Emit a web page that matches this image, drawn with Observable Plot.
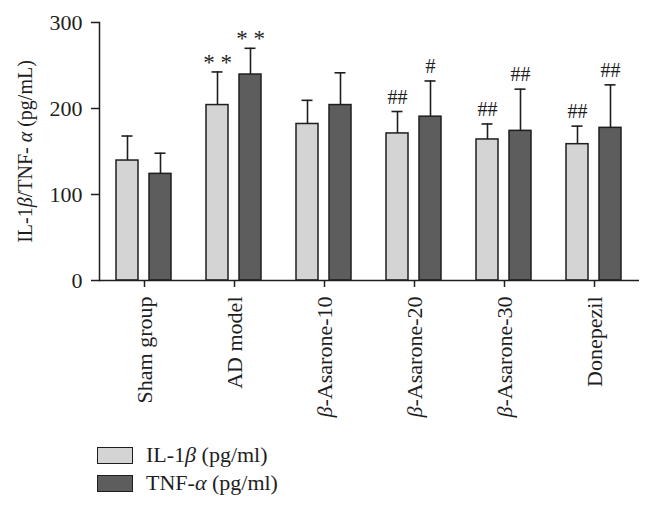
<!DOCTYPE html>
<html><head><meta charset="utf-8">
<script src="https://cdn.jsdelivr.net/npm/d3@7"></script>
<script src="https://cdn.jsdelivr.net/npm/@observablehq/plot@0.6"></script>
<style>
body{margin:0;background:#fff;font-family:"Liberation Serif",serif;color:#1e1e1e;}
#legend{padding:11px 0 0 97px;}
.row{display:flex;align-items:center;height:28px;font-size:22px;}
.sw{width:36px;height:17px;box-sizing:border-box;border:1.5px solid #1e1e1e;margin-right:13px;}
</style></head><body><div id="chart"></div><div id="legend"></div>
<script>
const groups = ["Sham group", "AD model", "β-Asarone-10", "β-Asarone-20", "β-Asarone-30", "Donepezil"];
const series = ["IL-1β (pg/ml)", "TNF-α (pg/ml)"];
const colors = ["#d4d4d4", "#5d5d5d"];
const il1b = [139.5, 204, 182, 171, 164, 158.5];
const il1bSD = [28.5, 38.5, 27.5, 25.5, 18, 21];
const il1bSig = ["", "* *", "", "##", "##", "##"];
const tnf = [124, 239.5, 204, 190.5, 174, 177.5];
const tnfSD = [24, 30.5, 37.5, 41.5, 48.5, 50];
const tnfSig = ["", "* *", "", "#", "##", "##"];
const yTicks = [0, 100, 200, 300];
const yLabel = "IL-1β/TNF- α (pg/mL)";

const data = groups.flatMap((g, i) => [
  {group: g, series: series[0], value: il1b[i], sd: il1bSD[i], sig: il1bSig[i]},
  {group: g, series: series[1], value: tnf[i], sd: tnfSD[i], sig: tnfSig[i]}
]);
const ink = "#1e1e1e";

const chart = Plot.plot({
  width: 654, height: 430,
  marginLeft: 98, marginRight: 14, marginTop: 22, marginBottom: 150,
  style: {fontFamily: '"Liberation Serif", serif', fontSize: "22px", color: ink, background: "#fff"},
  fx: {domain: groups, padding: 0, label: null},
  x: {domain: series, paddingInner: 0.32, paddingOuter: 0.5, axis: null},
  y: {domain: [0, 300]},
  color: {domain: series, range: colors},
  marks: [
    Plot.axisY({ticks: yTicks, tickSize: 8, tickPadding: 9, label: yLabel, labelAnchor: "center", labelOffset: 82, labelArrow: "none", fontSize: 22, strokeWidth: 1.5}),
    Plot.axisFx({anchor: "bottom", tickRotate: -90, tickSize: 7, tickPadding: 9, label: null, fontSize: 22, strokeWidth: 1.5}),
    Plot.barY(data, {fx: "group", x: "series", y: "value", fill: "series", stroke: ink, strokeWidth: 1.5}),
    Plot.ruleX(data, {fx: "group", x: "series", y1: "value", y2: d => d.value + d.sd, stroke: ink, strokeWidth: 1.6}),
    Plot.tickY(data, {fx: "group", x: "series", y: d => d.value + d.sd, stroke: ink, strokeWidth: 1.6, insetLeft: 5.5, insetRight: 5.5}),
    Plot.text(data.filter(d => d.sig.startsWith("#")), {fx: "group", x: "series", y: d => d.value + d.sd, text: "sig", lineAnchor: "bottom", dy: -8, fontSize: 20, fill: ink}),
    Plot.text(data.filter(d => d.sig.startsWith("*")), {fx: "group", x: "series", y: d => d.value + d.sd, text: "sig", lineAnchor: "bottom", dy: -2, fontSize: 23, fill: ink}),
    Plot.ruleY([0], {stroke: ink, strokeWidth: 1.5}),
    Plot.frame({anchor: "left", facetAnchor: "left", stroke: ink, strokeWidth: 1.5})
  ]
});
chart.querySelectorAll("text").forEach(t => {
  if (t.textContent === yLabel) t.setAttribute("font-size", "20");
});
document.getElementById("chart").append(chart);

const legend = document.getElementById("legend");
series.forEach((s, i) => {
  const row = document.createElement("div");
  row.className = "row";
  const sw = document.createElement("div");
  sw.className = "sw";
  sw.style.background = colors[i];
  const lab = document.createElement("span");
  lab.textContent = s;
  row.append(sw, lab);
  legend.append(row);
});

function italicGreek(root) {
  const walker = document.createTreeWalker(root, NodeFilter.SHOW_TEXT);
  const nodes = [];
  while (walker.nextNode()) nodes.push(walker.currentNode);
  for (const n of nodes) {
    if (!/[αβ]/.test(n.nodeValue)) continue;
    const isSvg = n.parentNode.namespaceURI === "http://www.w3.org/2000/svg";
    const frag = document.createDocumentFragment();
    for (const p of n.nodeValue.split(/([αβ])/)) {
      if (!p) continue;
      if (/[αβ]/.test(p)) {
        const t = isSvg ? document.createElementNS("http://www.w3.org/2000/svg", "tspan") : document.createElement("span");
        if (isSvg) t.setAttribute("font-style", "italic"); else t.style.fontStyle = "italic";
        t.textContent = p;
        frag.append(t);
      } else frag.append(document.createTextNode(p));
    }
    n.replaceWith(frag);
  }
}
italicGreek(document.body);
</script></body></html>
